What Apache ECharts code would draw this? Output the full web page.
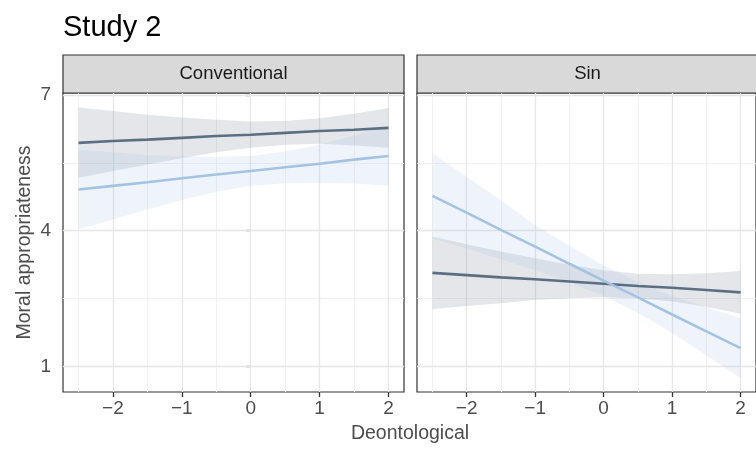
<!DOCTYPE html>
<html>
<head>
<meta charset="utf-8" />
<title>Study 2</title>
<style>
  body, html { padding: 0; margin: 0; background: #fff; }
</style>
</head>
<body>
<div id="container" style="width: 756px; height: 452px"></div>
<script src="https://cdn.jsdelivr.net/npm/echarts@6/dist/echarts.min.js"></script>
<script>
// panels and x positions of the fitted lines
var panels = ['Conventional', 'Sin'];
var xs = [-2.5, -2, -1.5, -1, -0.5, 0, 0.5, 1, 1.5, 2];

// Conventional, dark group
var convDarkFit = [5.94, 5.98, 6.01, 6.05, 6.09, 6.12, 6.16, 6.20, 6.23, 6.27];
var convDarkHi  = [6.72, 6.64, 6.56, 6.50, 6.45, 6.41, 6.42, 6.48, 6.58, 6.71];
var convDarkLo  = [5.17, 5.32, 5.46, 5.60, 5.73, 5.83, 5.90, 5.92, 5.88, 5.83];
// Conventional, light group
var convLightFit = [4.91, 4.99, 5.07, 5.16, 5.24, 5.32, 5.40, 5.48, 5.57, 5.65];
var convLightHi  = [5.79, 5.73, 5.67, 5.64, 5.63, 5.65, 5.75, 5.90, 6.10, 6.31];
var convLightLo  = [4.03, 4.25, 4.47, 4.68, 4.86, 4.99, 5.05, 5.06, 5.04, 4.99];
// Sin, dark group
var sinDarkFit = [3.07, 3.02, 2.97, 2.93, 2.88, 2.83, 2.78, 2.74, 2.69, 2.64];
var sinDarkHi  = [3.87, 3.70, 3.54, 3.39, 3.25, 3.13, 3.05, 3.04, 3.06, 3.11];
var sinDarkLo  = [2.27, 2.34, 2.40, 2.47, 2.51, 2.53, 2.51, 2.44, 2.32, 2.17];
// Sin, light group
var sinLightFit = [4.77, 4.40, 4.02, 3.65, 3.27, 2.90, 2.53, 2.15, 1.78, 1.41];
var sinLightHi  = [5.71, 5.19, 4.67, 4.12, 3.67, 3.24, 2.87, 2.56, 2.31, 2.07];
var sinLightLo  = [3.83, 3.61, 3.37, 3.13, 2.87, 2.56, 2.19, 1.74, 1.25, 0.75];

// ticks and grid lines
var xTicks = [-2, -1, 0, 1, 2];
var yTicks = [1, 4, 7];
var xGridMajor = [-2, -1, 0, 1, 2];
var xGridMinor = [-2.5, -1.5, -0.5, 0.5, 1.5];
var yGridMajor = [1, 4, 7];
var yGridMinor = [2.5, 5.5];

var darkCol = '#5b6f82';
var lightCol = '#a4c3e2';
var darkFill = 'rgba(118,132,148,0.2)';
var lightFill = 'rgba(160,195,228,0.18)';
var font = '"Liberation Sans", Arial, sans-serif';

function fmt(v) { return v < 0 ? '\u2212' + (-v) : String(v); }

function ribbonSeries(idx, lo, hi, fill) {
  return {
    type: 'custom',
    xAxisIndex: idx, yAxisIndex: idx,
    z: 2, silent: true, clip: true,
    data: xs.map(function (x, i) { return [x, lo[i], hi[i]]; }),
    encode: { x: 0, y: [1, 2] },
    renderItem: function (params, api) {
      if (params.dataIndex !== 0) return null;
      var pts = [];
      for (var i = 0; i < xs.length; i++) pts.push(api.coord([xs[i], hi[i]]));
      for (var j = xs.length - 1; j >= 0; j--) pts.push(api.coord([xs[j], lo[j]]));
      return { type: 'polygon', shape: { points: pts }, style: { fill: fill } };
    }
  };
}

function lineSeries(idx, fit, col, withGrid) {
  var s = {
    type: 'line',
    xAxisIndex: idx, yAxisIndex: idx,
    z: 3, silent: true,
    showSymbol: false,
    data: xs.map(function (x, i) { return [x, fit[i]]; }),
    lineStyle: { color: col, width: 2.6 }
  };
  if (withGrid) {
    var lines = [];
    xGridMinor.forEach(function (v) { lines.push({ xAxis: v, lineStyle: { color: '#f1f1f1', width: 1 } }); });
    yGridMinor.forEach(function (v) { lines.push({ yAxis: v, lineStyle: { color: '#f1f1f1', width: 1 } }); });
    xGridMajor.forEach(function (v) { lines.push({ xAxis: v, lineStyle: { color: '#e6e6e6', width: 1.3 } }); });
    yGridMajor.forEach(function (v) { lines.push({ yAxis: v, lineStyle: { color: '#e6e6e6', width: 1.3 } }); });
    s.markLine = {
      silent: true, symbol: 'none', z: 1, animation: false,
      label: { show: false },
      lineStyle: { type: 'solid' },
      data: lines
    };
  }
  return s;
}

function xAxisDef(idx) {
  return {
    type: 'value', gridIndex: idx, min: -2.725, max: 2.225,
    axisLine: { show: false },
    splitLine: { show: false },
    axisTick: { show: true, customValues: xTicks, length: 5, lineStyle: { color: '#333', width: 1.3 } },
    axisLabel: { customValues: xTicks, formatter: fmt, color: '#4d4d4d', fontSize: 19, fontFamily: font, margin: 7 }
  };
}

function yAxisDef(idx) {
  var a = {
    type: 'value', gridIndex: idx, min: 0.44, max: 7.04,
    axisLine: { show: false },
    splitLine: { show: false },
    axisTick: { show: idx === 0, customValues: yTicks, length: 5, lineStyle: { color: '#333', width: 1.3 } },
    axisLabel: { show: idx === 0, customValues: yTicks, color: '#4d4d4d', fontSize: 19, fontFamily: font, margin: 12 }
  };
  if (idx === 0) {
    a.name = 'Moral appropriateness';
    a.nameLocation = 'middle';
    a.nameGap = 28;
    a.nameTextStyle = { color: '#4d4d4d', fontSize: 19.5, fontFamily: font };
  }
  return a;
}

var chart = echarts.init(document.getElementById('container'));
chart.setOption({
  animation: false,
  backgroundColor: '#fff',
  title: {
    text: 'Study 2', left: 58, top: 8,
    textStyle: { color: '#000', fontSize: 29, fontWeight: 'normal', fontFamily: font }
  },
  grid: [
    { left: 63, top: 93, width: 341, height: 299, show: true, borderColor: '#333', borderWidth: 1.2, backgroundColor: '#fff' },
    { left: 417, top: 93, width: 341, height: 299, show: true, borderColor: '#333', borderWidth: 1.2, backgroundColor: '#fff' }
  ],
  xAxis: [xAxisDef(0), xAxisDef(1)],
  yAxis: [yAxisDef(0), yAxisDef(1)],
  graphic: [
    { type: 'rect', shape: { x: 63, y: 55, width: 341, height: 38 }, style: { fill: '#d9d9d9', stroke: '#333', lineWidth: 1.2 } },
    { type: 'text', x: 233.5, y: 74, style: { text: panels[0], fill: '#1a1a1a', fontSize: 18.5, fontFamily: font, textAlign: 'center', textVerticalAlign: 'middle' } },
    { type: 'rect', shape: { x: 417, y: 55, width: 341, height: 38 }, style: { fill: '#d9d9d9', stroke: '#333', lineWidth: 1.2 } },
    { type: 'text', x: 587.5, y: 74, style: { text: panels[1], fill: '#1a1a1a', fontSize: 18.5, fontFamily: font, textAlign: 'center', textVerticalAlign: 'middle' } },
    { type: 'text', x: 410, y: 434, style: { text: 'Deontological', fill: '#4d4d4d', fontSize: 19.5, fontFamily: font, textAlign: 'center', textVerticalAlign: 'middle' } }
  ],
  series: [
    ribbonSeries(0, convDarkLo, convDarkHi, darkFill),
    ribbonSeries(0, convLightLo, convLightHi, lightFill),
    lineSeries(0, convDarkFit, darkCol, true),
    lineSeries(0, convLightFit, lightCol, false),
    ribbonSeries(1, sinDarkLo, sinDarkHi, darkFill),
    ribbonSeries(1, sinLightLo, sinLightHi, lightFill),
    lineSeries(1, sinDarkFit, darkCol, true),
    lineSeries(1, sinLightFit, lightCol, false)
  ]
});
window.onresize = chart.resize;
</script>
</body>
</html>
